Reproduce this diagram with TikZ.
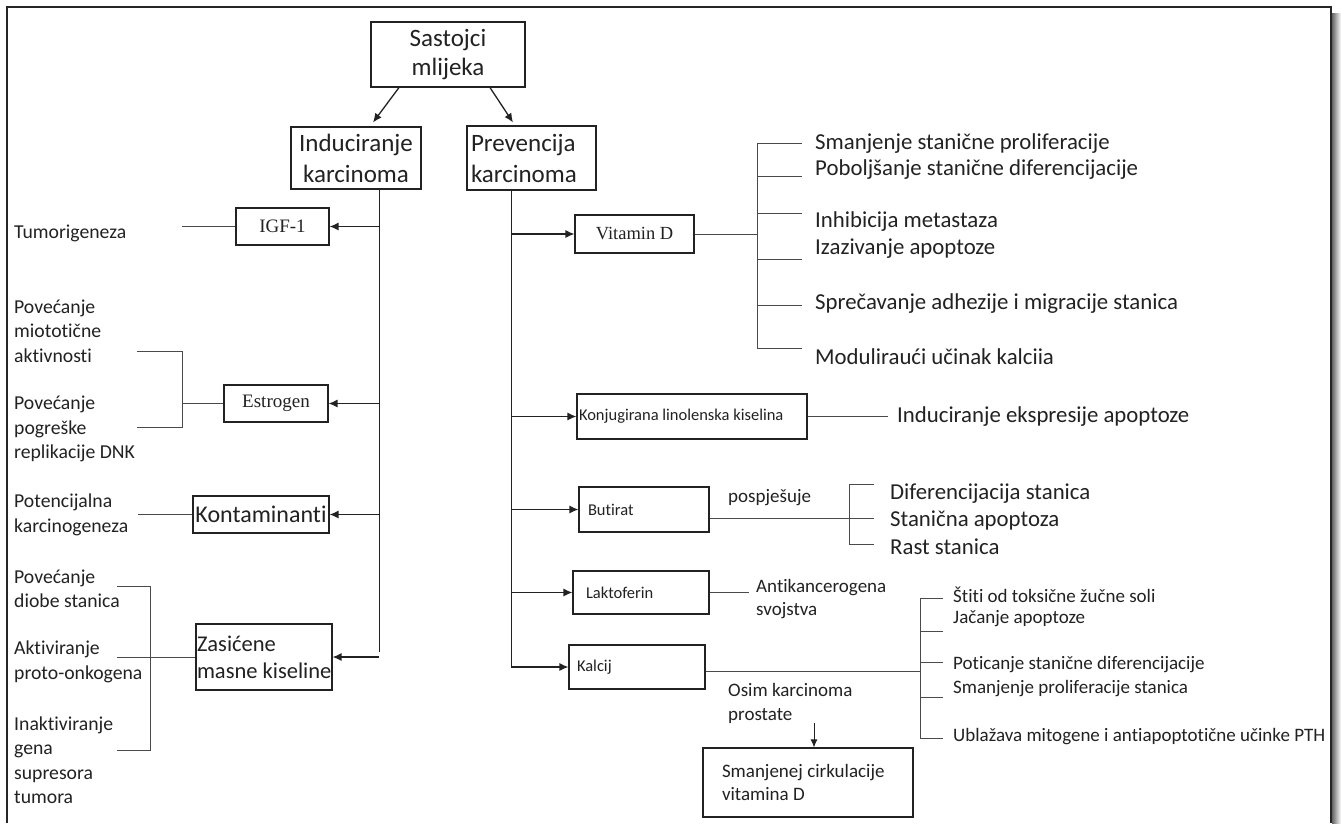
\documentclass[tikz,border=0pt]{standalone}
\usepackage{fontspec}
\setmainfont{Carlito}[Ligatures=NoCommon]
\newfontfamily\tms{Liberation Serif}
\usetikzlibrary{arrows.meta,calc}
\definecolor{ink}{HTML}{222222}
\definecolor{lineg}{HTML}{4A4A4A}
\begin{document}
\begin{tikzpicture}[x=1pt,y=-1pt,
  bx/.style={draw=ink, line width=1.1pt, inner sep=0pt, text=ink},
  ln/.style={draw=lineg, line width=1pt},
  arr/.style={draw=ink, line width=1.3pt, -{Latex[length=9pt,width=8pt]}},
  tx/.style={inner sep=0pt, anchor=west, align=flush left, text=ink},
  fL/.style={font=\fontsize{19.7}{24.5}\selectfont},
  fV/.style={font=\fontsize{22.8}{27}\selectfont},
  fK/.style={font=\fontsize{19}{23.5}\selectfont},
  fS/.style={font=\fontsize{19}{23.5}\selectfont}]
\useasboundingbox (0,0) rectangle (1341,823);
\fill[white] (0,0) rectangle (1341,823);
% frame and shadow
\shade[left color=black!60, right color=white] (1332,13) rectangle (1341,823);
\draw[line width=2pt, draw=black!85] (7,823) -- (7,7) -- (1331,7) -- (1331,823);

% main boxes
\node[bx, minimum width=154, minimum height=65, align=center, font=\fontsize{25}{29}\selectfont] (top) at (448,54.5) {Sastojci\\mlijeka};
\node[bx, minimum width=130, minimum height=62, align=center, font=\fontsize{25}{31}\selectfont] (ind) at (356,158) {Induciranje\\karcinoma};
\node[bx, minimum width=129, minimum height=64, text width=121, inner xsep=4, align=flush left, font=\fontsize{25}{31}\selectfont] (prev) at (531.5,158) {Prevencija\\karcinoma};

% left boxes
\node[bx, minimum width=93, minimum height=37, font=\tms\fontsize{19}{22}\selectfont] (igf) at (282.5,226.5) {IGF-1};
\node[bx, minimum width=104, minimum height=37, font=\tms\fontsize{19}{22}\selectfont] (estr) at (276,403.5) {Estrogen};
\node[bx, minimum width=136, minimum height=37, font=\fontsize{24}{28}\selectfont] (kont) at (261,514.5) {Kontaminanti};
\node[bx, minimum width=136, minimum height=66, text width=134, inner xsep=1, align=flush left, font=\fontsize{22.5}{27}\selectfont] (zas) at (264,657) {Zasićene\\\mbox{masne kiseline}};

% right boxes
\node[bx, minimum width=119, minimum height=38, font=\tms\fontsize{18.5}{22}\selectfont] (vitd) at (634.5,234) {Vitamin D};
\node[bx, minimum width=230, minimum height=45, text width=226, inner xsep=2, align=flush left, font=\fontsize{16.5}{20}\selectfont] (klk) at (692,416.5) {Konjugirana linolenska kiselina};
\node[bx, minimum width=130, minimum height=45, text width=112, inner xsep=9, align=flush left, font=\fontsize{16.5}{20}\selectfont] (but) at (644,509.5) {Butirat};
\node[bx, minimum width=136, minimum height=43, text width=110, inner xsep=13, align=flush left, font=\fontsize{16.5}{20}\selectfont] (lak) at (641,592.5) {Laktoferin};
\node[bx, minimum width=136, minimum height=44, text width=120, inner xsep=8, align=flush left, font=\fontsize{16.5}{20}\selectfont] (kal) at (637,667) {Kalcij};
\node[bx, minimum width=210, minimum height=69, text width=172, inner xsep=19, align=flush left, font=\fontsize{19}{23}\selectfont] (smanj) at (808,782.5) {Smanjenej cirkulacije\\vitamina D};

% top arrows
\draw[arr] ($(top.south)+(-49,0)$) -- ($(ind.north)+(17,-4)$);
\draw[arr] ($(top.south)+(42,0)$) -- ($(prev.north)+(-18.5,-3)$);

% left trunk
\coordinate (tL) at (379,0);
\draw[ln, draw=ink] (tL |- ind.south) -- ($(tL |- zas.east)+(0,-5)$);
\draw[arr] (tL |- igf.east) -- (igf.east);
\draw[arr] (tL |- estr.east) -- (estr.east);
\draw[arr] (tL |- kont.east) -- (kont.east);
\draw[arr] (tL |- zas.east) -- (zas.east);

% right trunk
\coordinate (tR) at (511,0);
\draw[ln, draw=ink] (tR |- prev.south) -- (tR |- kal.west);
\draw[arr] (tR |- vitd.west) -- (vitd.west);
\draw[arr] (tR |- klk.west) -- (klk.west);
\draw[arr] (tR |- but.west) -- (but.west);
\draw[arr] (tR |- lak.west) -- (lak.west);
\draw[arr] (tR |- kal.west) -- (kal.west);

% left side connectors
\draw[ln] (igf.west) -- ++(-53,0);
\draw[ln] (estr.west) -- (182,403.5);
\draw[ln] (137,351) -- (182,351) -- (182,427) -- (137,427);
\draw[ln] (kont.west) -- ++(-54,0);
\draw[ln] (zas.west) -- (117,657);
\draw[ln] (117,586) -- (150,586) -- (150,750) -- (117,750);

% left texts
\node[tx, fL] (t1) at (14,233) {Tumorigeneza};
\node[tx, fL] (t2) at (14,331) {Povećanje\\miototične\\aktivnosti};
\node[tx, fL] (t3) at (14,429) {Povećanje\\pogreške\\replikacije DNK};
\node[tx, fL] (t4) at (14,515) {Potencijalna\\karcinogeneza};
\node[tx, fL] (t5) at (14,589) {Povećanje\\diobe stanica};
\node[tx, fL] (t6) at (14,662) {Aktiviranje\\proto-onkogena};
\node[tx, fL] (t7) at (14,760) {Inaktiviranje\\gena\\supresora\\tumora};

% vitamin D branch
\draw[ln] (vitd.east) -- (757,234);
\draw[ln] (757,143) -- (757,348);
\foreach \yy in {143,176,213,259,305,348} \draw[ln] (757,\yy) -- (802,\yy);
\node[tx, fV] (v1) at (815,144) {Smanjenje stanične proliferacije};
\node[tx, fV] (v2) at (815,170) {Poboljšanje stanične diferencijacije};
\node[tx, fV] (v3) at (815,222) {Inhibicija metastaza};
\node[tx, fV] (v4) at (815,249) {Izazivanje apoptoze};
\node[tx, fV] (v5) at (815,304) {Sprečavanje adhezije i migracije stanica};
\node[tx, fV] (v6) at (815,357) {Moduliraući učinak kalciia};

% KLK
\draw[ln] (klk.east) -- ++(80,0);
\node[tx, fV] (k1) at (897,417) {Induciranje ekspresije apoptoze};

% Butirat
\draw[ln] ($(but.east)+(0,8.5)$) -- (849,518);
\draw[ln] (874,484) -- (849,484) -- (849,544) -- (874,544);
\draw[ln] (849,518) -- (874,518);
\node[tx, fS] (b0) at (728,498) {pospješuje};
\node[tx, fV] (b1) at (890,494) {Diferencijacija stanica};
\node[tx, fV] (b2) at (890,520) {Stanična apoptoza};
\node[tx, fV] (b3) at (890,547) {Rast stanica};

% Laktoferin
\draw[ln] (lak.east) -- ++(39,0);
\node[tx, fS] (l1) at (756,599) {Antikancerogena\\svojstva};

% Kalcij
\draw[ln] ($(kal.east)+(0,4)$) -- (920,671);
\draw[ln] (920,598) -- (920,738);
\foreach \yy in {598,631,662,697,738} \draw[ln] (920,\yy) -- (943,\yy);
\node[tx, fK] (c1) at (953,595) {Štiti od toksične žučne soli};
\node[tx, fK] (c2) at (953,619) {Jačanje apoptoze};
\node[tx, fK] (c3) at (953,665) {Poticanje stanične diferencijacije};
\node[tx, fK] (c4) at (953,689) {Smanjenje proliferacije stanica};
\node[tx, fK] (c5) at (953,737) {Ublažava mitogene i antiapoptotične učinke PTH};

\node[tx, fS] (o1) at (728,703.5) {Osim karcinoma\\prostate};
\coordinate (oa) at (814,723);
\draw[ink, line width=1pt, -{Latex[length=8pt,width=7pt]}] (oa) -- (oa |- smanj.north);
\end{tikzpicture}
\end{document}
